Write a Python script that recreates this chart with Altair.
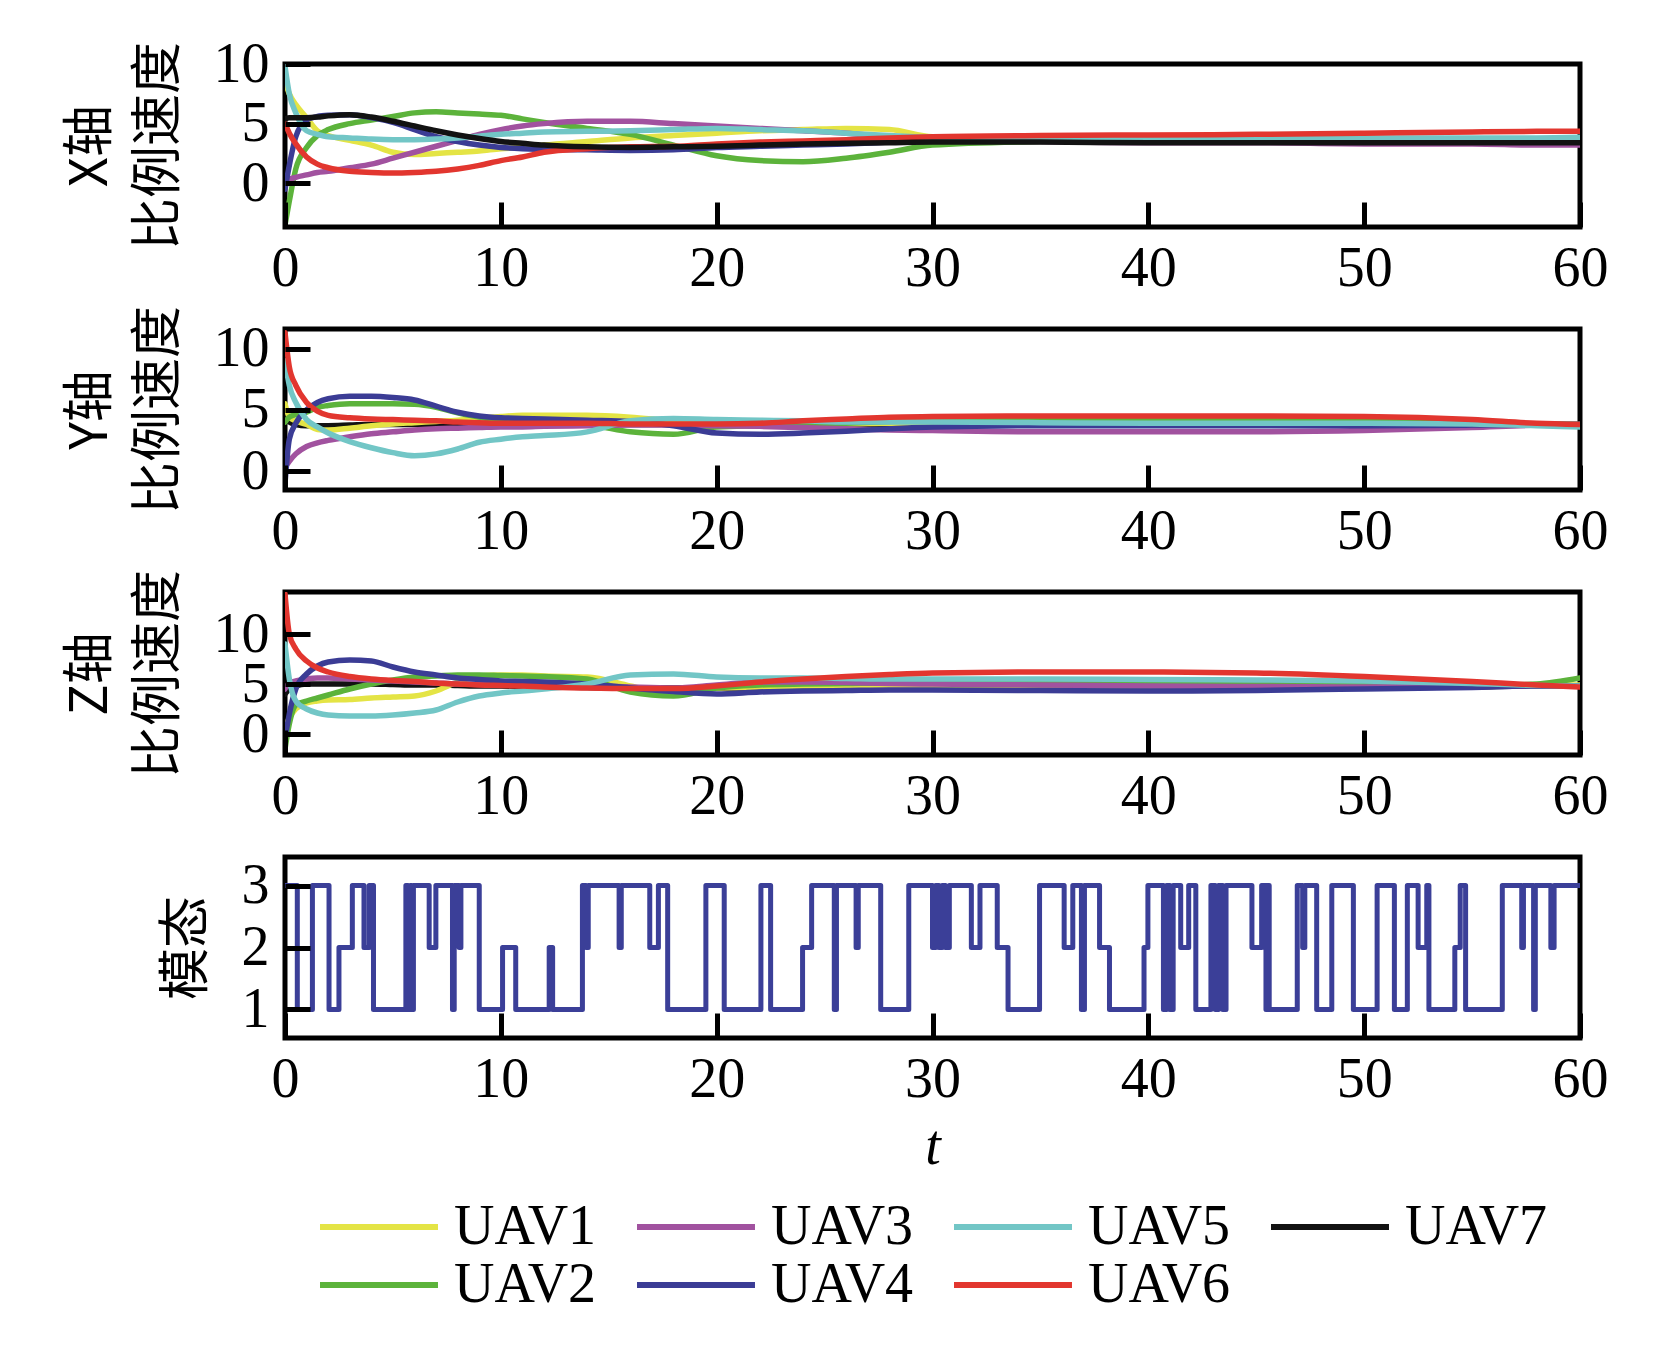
import altair as alt
import pandas as pd

# ---------------- data ----------------
T = [0, 0.2, 0.5, 1, 1.5, 2, 3, 4, 5, 6, 7, 8, 9, 10, 11, 12, 14, 16, 18, 20,
     22, 24, 26, 28, 30, 35, 40, 45, 50, 55, 58, 60]

UAVS = ["UAV1", "UAV2", "UAV3", "UAV4", "UAV5", "UAV6", "UAV7"]

# X axis proportional velocity
X_UAV1 = [8.5, 7.5, 6.6, 5.5, 4.4, 4.0, 3.6, 3.2, 2.6, 2.4, 2.5, 2.6, 2.7, 2.9, 3.0, 3.2, 3.5, 3.8, 4.0, 4.2,
          4.4, 4.5, 4.6, 4.5, 3.9, 3.7, 3.7, 3.7, 3.7, 3.7, 3.7, 3.7]
X_UAV2 = [-3.5, -1.5, 1.2, 3.0, 4.0, 4.5, 5.0, 5.3, 5.6, 5.9, 6.0, 5.9, 5.8, 5.7, 5.4, 5.1, 4.6, 4.1, 3.2, 2.3,
          1.9, 1.8, 2.1, 2.6, 3.2, 3.5, 3.6, 3.6, 3.6, 3.6, 3.7, 3.7]
X_UAV3 = [0.0, 0.3, 0.5, 0.7, 0.9, 1.0, 1.3, 1.6, 2.1, 2.6, 3.1, 3.6, 4.1, 4.5, 4.8, 5.0, 5.2, 5.2, 5.0, 4.8,
          4.6, 4.4, 4.2, 3.9, 3.7, 3.5, 3.4, 3.4, 3.3, 3.3, 3.2, 3.2]
X_UAV4 = [-0.5, 1.5, 3.9, 5.3, 5.6, 5.7, 5.75, 5.5, 5.1, 4.5, 3.9, 3.5, 3.2, 3.0, 2.9, 2.85, 2.8, 2.75, 2.8, 3.0,
          3.1, 3.2, 3.3, 3.45, 3.6, 3.65, 3.65, 3.65, 3.65, 3.65, 3.65, 3.65]
X_UAV5 = [9.8, 7.5, 5.9, 4.4, 4.1, 3.9, 3.8, 3.7, 3.65, 3.65, 3.7, 3.8, 3.95, 4.1, 4.2, 4.3, 4.35, 4.4, 4.5, 4.6,
          4.5, 4.4, 4.2, 4.0, 3.85, 3.8, 3.8, 3.8, 3.8, 3.8, 3.8, 3.85]
X_UAV6 = [5.0, 4.2, 3.3, 2.2, 1.6, 1.3, 1.0, 0.9, 0.85, 0.9, 1.0, 1.2, 1.5, 1.9, 2.2, 2.6, 2.9, 3.05, 3.1, 3.3,
          3.45, 3.55, 3.65, 3.8, 3.9, 4.0, 4.05, 4.1, 4.2, 4.3, 4.35, 4.35]
X_UAV7 = [5.4, 5.5, 5.5, 5.5, 5.55, 5.65, 5.75, 5.55, 5.2, 4.8, 4.4, 4.05, 3.75, 3.5, 3.35, 3.2, 3.05, 3.0, 3.05, 3.1,
          3.2, 3.3, 3.35, 3.4, 3.45, 3.45, 3.4, 3.4, 3.4, 3.4, 3.4, 3.4]

# Y axis proportional velocity
Y_UAV1 = [5.5, 4.4, 4.1, 3.8, 3.4, 3.35, 3.5, 3.7, 3.85, 3.95, 4.05, 4.15, 4.3, 4.45, 4.55, 4.55, 4.55, 4.4, 4.1, 3.95,
          3.9, 3.85, 3.85, 3.9, 3.9, 4.0, 4.0, 4.0, 4.0, 3.9, 3.8, 3.8]
Y_UAV2 = [4.0, 4.4, 4.6, 4.8, 5.2, 5.35, 5.5, 5.5, 5.5, 5.45, 5.2, 4.75, 4.4, 4.1, 3.95, 3.85, 3.75, 3.2, 3.0, 3.6,
          3.7, 3.8, 3.9, 4.05, 4.2, 4.3, 4.3, 4.25, 4.2, 4.0, 3.85, 3.8]
Y_UAV3 = [0.3, 0.8, 1.4, 2.0, 2.3, 2.5, 2.8, 3.05, 3.2, 3.35, 3.45, 3.5, 3.55, 3.6, 3.6, 3.65, 3.7, 3.75, 3.75, 3.7,
          3.65, 3.55, 3.45, 3.35, 3.3, 3.2, 3.2, 3.2, 3.3, 3.55, 3.75, 3.8]
Y_UAV4 = [-1.0, 2.6, 3.9, 5.0, 5.6, 5.9, 6.1, 6.1, 6.0, 5.8, 5.3, 4.8, 4.5, 4.35, 4.3, 4.25, 4.15, 4.05, 3.7, 3.1,
          3.0, 3.1, 3.25, 3.45, 3.6, 3.7, 3.7, 3.7, 3.7, 3.75, 3.8, 3.8]
Y_UAV5 = [9.0, 7.0, 5.6, 4.2, 3.6, 3.1, 2.4, 1.9, 1.5, 1.25, 1.4, 1.8, 2.35, 2.6, 2.8, 2.9, 3.2, 4.1, 4.3, 4.2,
          4.15, 4.1, 4.0, 4.0, 4.0, 3.95, 3.9, 3.9, 3.9, 3.85, 3.7, 3.6]
Y_UAV6 = [11.3, 8.5, 7.0, 5.6, 4.9, 4.55, 4.35, 4.25, 4.2, 4.15, 4.1, 4.0, 3.95, 3.9, 3.9, 3.9, 3.9, 3.85, 3.85, 3.85,
          3.9, 4.1, 4.25, 4.4, 4.45, 4.5, 4.5, 4.5, 4.45, 4.2, 3.9, 3.8]
Y_UAV7 = [4.5, 4.0, 3.8, 3.7, 3.7, 3.7, 3.75, 3.8, 3.8, 3.8, 3.8, 3.8, 3.8, 3.8, 3.8, 3.8, 3.8, 3.8, 3.8, 3.8,
          3.8, 3.8, 3.8, 3.8, 3.8, 3.8, 3.8, 3.8, 3.8, 3.8, 3.8, 3.8]

# Z axis proportional velocity
Z_UAV1 = [0.5, 1.6, 2.5, 3.1, 3.3, 3.4, 3.45, 3.6, 3.7, 3.8, 4.3, 5.2, 5.8, 5.9, 5.9, 5.8, 5.7, 4.8, 3.9, 4.6,
          4.7, 4.8, 4.8, 4.8, 4.8, 4.75, 4.7, 4.75, 4.8, 4.85, 4.9, 4.9]
Z_UAV2 = [-1.5, 1.0, 2.9, 3.3, 3.6, 3.9, 4.5, 5.0, 5.4, 5.7, 5.8, 5.9, 5.9, 5.85, 5.8, 5.75, 5.5, 4.2, 3.8, 4.6,
          4.9, 5.0, 5.05, 5.1, 5.1, 5.1, 5.1, 5.0, 4.9, 4.8, 5.0, 5.6]
Z_UAV3 = [4.5, 5.1, 5.3, 5.5, 5.6, 5.6, 5.5, 5.4, 5.3, 5.2, 5.1, 5.0, 4.95, 4.9, 4.9, 4.9, 4.85, 4.7, 4.6, 4.9,
          5.2, 5.2, 5.15, 5.05, 5.0, 4.9, 4.8, 4.75, 4.7, 4.75, 4.8, 4.8]
Z_UAV4 = [-0.5, 2.0, 4.5, 6.0, 6.8, 7.2, 7.4, 7.3, 6.7, 6.2, 5.9, 5.6, 5.45, 5.3, 5.25, 5.2, 5.0, 4.6, 4.25, 4.0,
          4.2, 4.3, 4.35, 4.4, 4.4, 4.35, 4.3, 4.35, 4.5, 4.65, 4.8, 4.8]
Z_UAV5 = [9.0, 5.5, 3.3, 2.5, 2.1, 1.9, 1.8, 1.8, 1.9, 2.1, 2.4, 3.2, 3.8, 4.1, 4.3, 4.5, 5.0, 5.9, 6.0, 5.7,
          5.6, 5.6, 5.55, 5.5, 5.5, 5.5, 5.45, 5.4, 5.3, 5.05, 4.85, 4.8]
Z_UAV6 = [14.0, 10.0, 8.5, 7.3, 6.6, 6.2, 5.75, 5.5, 5.35, 5.25, 5.1, 5.0, 4.9, 4.85, 4.8, 4.7, 4.6, 4.55, 4.55, 4.8,
          5.2, 5.5, 5.75, 5.95, 6.1, 6.2, 6.2, 6.1, 5.75, 5.25, 4.9, 4.7]
Z_UAV7 = [4.0, 4.5, 4.8, 5.0, 5.0, 5.0, 5.0, 5.0, 4.95, 4.9, 4.9, 4.85, 4.8, 4.8, 4.75, 4.7, 4.65, 4.6, 4.6, 4.6,
          4.6, 4.6, 4.6, 4.6, 4.6, 4.6, 4.6, 4.6, 4.6, 4.7, 4.8, 4.8]

# switching mode (step signal, value holds until next change)
MODE_T = [0, 0.57, 1.27, 2.04, 2.5, 3.12, 3.66, 3.9, 4.1, 5.6, 5.7, 5.8, 5.88, 5.95, 6.68, 6.99, 7.76, 7.84,
          8.07, 8.15, 9.0, 10.08, 10.69, 12.24, 12.4, 13.78, 13.95, 14.05, 15.48, 15.58, 16.9, 17.3, 17.73,
          19.5, 20.35, 22.05, 22.5, 23.98, 24.4, 25.45, 25.55, 26.46, 26.56, 27.6, 28.9, 30.0, 30.15, 30.3,
          30.45, 30.6, 30.78, 31.8, 32.2, 33.0, 33.5, 34.96, 36.1, 36.5, 36.9, 37.04, 37.74, 38.2, 39.8,
          39.98, 40.7, 40.85, 41.0, 41.15, 41.5, 41.87, 42.2, 42.9, 43.1, 43.25, 43.45, 43.6, 44.8, 45.25,
          45.45, 45.5, 45.6, 46.9, 47.15, 47.25, 47.8, 48.5, 49.5, 50.6, 51.4, 52.0, 52.5, 52.9, 53.0, 54.2,
          54.45, 54.7, 56.4, 57.3, 57.38, 57.85, 57.93, 58.65, 58.8, 60]
MODE_V = [3, 1, 3, 1, 2, 3, 2, 3, 1, 3, 1, 3, 1, 3, 2, 3, 1, 3,
          2, 3, 1, 2, 1, 2, 1, 3, 2, 3, 2, 3, 2, 3, 1,
          3, 1, 3, 1, 2, 3, 1, 3, 2, 3, 1, 3, 2, 3, 2,
          3, 2, 3, 2, 3, 2, 1, 3, 2, 3, 1, 3, 2, 1, 2,
          3, 1, 3, 1, 3, 2, 3, 1, 3, 1, 3, 1, 3, 2, 3,
          1, 3, 1, 3, 2, 3, 1, 3, 1, 3, 1, 3, 2, 3, 1, 2,
          3, 1, 3, 2, 3, 1, 3, 2, 3, 3]

COLORS = {"UAV1": "#e4e445", "UAV2": "#5cb33b", "UAV3": "#a1529f", "UAV4": "#3b3c95",
          "UAV5": "#72c6c6", "UAV6": "#e2362f", "UAV7": "#121212"}


def long_df(series, order):
    rows = []
    for name in order:
        for t, v in zip(T, series[name]):
            rows.append({"t": t, "v": v, "uav": name})
    return pd.DataFrame(rows)


dfx = long_df(dict(zip(UAVS, [X_UAV1, X_UAV2, X_UAV3, X_UAV4, X_UAV5, X_UAV6, X_UAV7])), UAVS)
under = ["UAV7", "UAV1", "UAV2", "UAV3", "UAV4", "UAV5", "UAV6"]
dfy = long_df(dict(zip(UAVS, [Y_UAV1, Y_UAV2, Y_UAV3, Y_UAV4, Y_UAV5, Y_UAV6, Y_UAV7])), under)
dfz = long_df(dict(zip(UAVS, [Z_UAV1, Z_UAV2, Z_UAV3, Z_UAV4, Z_UAV5, Z_UAV6, Z_UAV7])), under)
dfm = pd.DataFrame({"t": MODE_T, "v": MODE_V})

# ---------------- styling ----------------
SERIF = "Liberation Serif"
CJK = "Noto Sans CJK SC"
FS = 56
TICK = 25

color_scale = alt.Scale(domain=UAVS, range=[COLORS[k] for k in UAVS])
# a long horizontal stroke drawn with a small nominal symbol size keeps the rows tight
legend = alt.Legend(
    orient="none", legendX=66, legendY=1135, columns=4, title=None,
    symbolType="M-4,0L4,0", symbolSize=870, symbolStrokeWidth=6, symbolFillColor="transparent",
    labelFont=SERIF, labelFontSize=FS, labelColor="black", labelOffset=47,
    labelLimit=500, columnPadding=28, rowPadding=2, symbolOpacity=1,
)


def x_axis(title=None):
    kw = dict(values=[0, 10, 20, 30, 40, 50, 60], labelFont=SERIF, labelFontSize=FS,
              labelColor="black", labelFlush=False, labelPadding=14, labelOverlap=False,
              tickSize=TICK, tickWidth=5, tickColor="black", offset=-TICK, domain=False,
              grid=False, zindex=1)
    if title:
        return alt.Axis(title=title, titleFont=SERIF, titleFontSize=FS, titleFontStyle="italic",
                        titleFontWeight="normal", titleColor="black", titlePadding=12, **kw)
    return alt.Axis(title=None, **kw)


def y_axis(title, values):
    return alt.Axis(values=values, title=title, labelFont=SERIF, labelFontSize=FS,
                    labelColor="black", labelPadding=16, labelFlush=False, labelOverlap=False,
                    tickSize=TICK, tickWidth=5, tickColor="black", offset=-TICK,
                    domain=False, grid=False, zindex=1,
                    titleFont=CJK, titleFontSize=52, titleFontWeight="normal",
                    titleColor="black", titleLineHeight=68, titlePadding=28)


def uav_panel(df, ydom, yvals, title, height, xtitle=None):
    return alt.Chart(df).mark_line(strokeWidth=5.5, interpolate="monotone",
                                   strokeCap="round", clip=True).encode(
        x=alt.X("t:Q", scale=alt.Scale(domain=[0, 60], nice=False, zero=False), axis=x_axis(xtitle)),
        y=alt.Y("v:Q", scale=alt.Scale(domain=ydom, nice=False, zero=False), axis=y_axis(title, yvals)),
        color=alt.Color("uav:N", scale=color_scale, legend=legend),
    ).properties(width=1295, height=height)


p1 = uav_panel(dfx, [-3.67, 10.0], [0, 5, 10], ["X轴", "比例速度"], 163)
p2 = uav_panel(dfy, [-1.55, 11.6], [0, 5, 10], ["Y轴", "比例速度"], 161)
p3 = uav_panel(dfz, [-2.1, 14.2], [0, 5, 10], ["Z轴", "比例速度"], 163)

p4 = alt.Chart(dfm).mark_line(strokeWidth=5, interpolate="step-after", color="#3b3f98",
                              strokeJoin="round", strokeCap="round", clip=True).encode(
    x=alt.X("t:Q", scale=alt.Scale(domain=[0, 60], nice=False, zero=False), axis=x_axis("t")),
    y=alt.Y("v:Q", scale=alt.Scale(domain=[0.54, 3.46], nice=False, zero=False),
            axis=y_axis("模态", [1, 2, 3])),
).properties(width=1295, height=181)

chart = alt.vconcat(p1, p2, p3, p4, spacing=102, bounds="flush").properties(
    padding={"left": 53, "top": 25, "right": 10, "bottom": 10},
    background="white",
).configure_view(stroke="black", strokeWidth=5)

chart.save("out.html", embed_options={"renderer": "svg", "actions": False})
